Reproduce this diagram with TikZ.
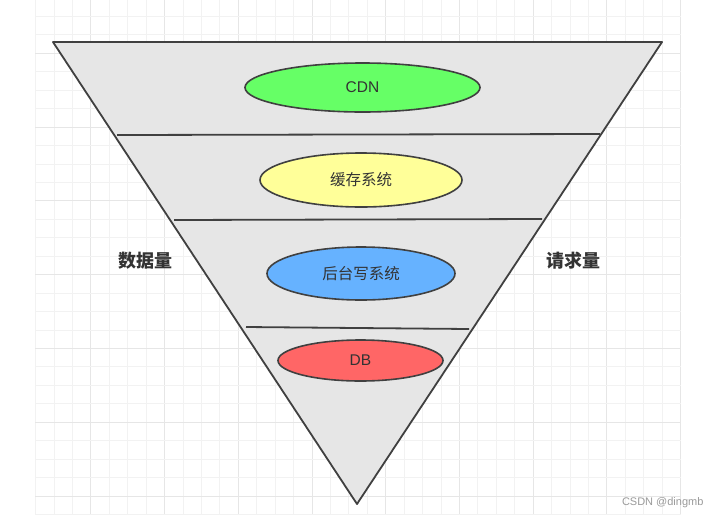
\documentclass[tikz,border=0pt]{standalone}
\usepackage{fontspec}
\setmainfont{Liberation Sans}
\newfontfamily\cjk{Noto Sans CJK SC}
\usetikzlibrary{shapes.geometric}
\definecolor{gridminor}{HTML}{F2F2F2}
\definecolor{gridmajor}{HTML}{E6E6E6}
\definecolor{funnelfill}{HTML}{E6E6E6}
\definecolor{stroke}{HTML}{404040}
\definecolor{cdngreen}{HTML}{66FF66}
\definecolor{cacheyellow}{HTML}{FFFF99}
\definecolor{backblue}{HTML}{66B2FF}
\definecolor{dbred}{HTML}{FF6666}
\definecolor{textgray}{HTML}{333333}
\definecolor{markgray}{HTML}{9A9A9A}
\tikzset{
  minorline/.style={draw=gridminor, line width=1pt},
  majorline/.style={draw=gridmajor, line width=1pt},
  layer/.style={ellipse, draw=stroke, line width=1.6pt, inner sep=0pt, font=\cjk\fontsize{15.5}{18}\selectfont, text=textgray},
  divider/.style={draw=stroke, line width=1.8pt},
  sidelabel/.style={font=\cjk\bfseries\fontsize{18}{20}\selectfont, text=textgray}
}
\begin{document}
\begin{tikzpicture}[x=1pt,y=-1pt]
\useasboundingbox (0,0) rectangle (722,520);
\fill[white] (0,0) rectangle (722,520);
% grid
\foreach \i in {0,...,35} {
  \pgfmathtruncatemacro{\m}{mod(\i+1,4)}
  \ifnum\m=0
    \draw[majorline] (35.6+\i*18.43,0) -- (35.6+\i*18.43,515);
  \else
    \draw[minorline] (35.6+\i*18.43,0) -- (35.6+\i*18.43,515);
  \fi
}
\foreach \j in {0,...,27} {
  \pgfmathtruncatemacro{\m}{mod(\j+2,4)}
  \ifnum\m=0
    \draw[majorline] (35,16.4+\j*18.45) -- (680.6,16.4+\j*18.45);
  \else
    \draw[minorline] (35,16.4+\j*18.45) -- (680.6,16.4+\j*18.45);
  \fi
}
% funnel
\coordinate (tl) at (53,42);
\coordinate (tr) at (662,42);
\coordinate (apex) at (357,504);
\filldraw[fill=funnelfill, draw=stroke, line width=1.8pt, line join=round] (tl) -- (tr) -- (apex) -- cycle;
% dividers
\coordinate (d1l) at (117,135);
\coordinate (d1r) at (600,134);
\coordinate (d2l) at (174,220);
\coordinate (d2r) at (542,219);
\coordinate (d3l) at (246,327);
\coordinate (d3r) at (469,329);
\draw[divider] (d1l) -- (d1r);
\draw[divider] (d2l) -- (d2r);
\draw[divider] (d3l) -- (d3r);
% layers
\node[layer, fill=cdngreen, minimum width=235pt, minimum height=49pt] (cdn) at (362.5,87.5) {\fontspec{Liberation Sans}CDN};
\node[layer, fill=cacheyellow, minimum width=202pt, minimum height=54pt] (cache) at (361,180) {缓存系统};
\node[layer, fill=backblue, minimum width=188pt, minimum height=53pt] (back) at (361,273.5) {后台写系统};
\node[layer, fill=dbred, minimum width=165pt, minimum height=41pt] (db) at (360.5,360.5) {\fontspec{Liberation Sans}DB};
% side labels
\node[sidelabel] (data) at (145.5,261) {数据量};
\node[sidelabel] (req) at (573,261) {请求量};
% watermark
\node[font=\fontsize{11}{13}\selectfont, text=markgray, anchor=east] (mark) at (707,503) {CSDN @dingmb};
\end{tikzpicture}
\end{document}
